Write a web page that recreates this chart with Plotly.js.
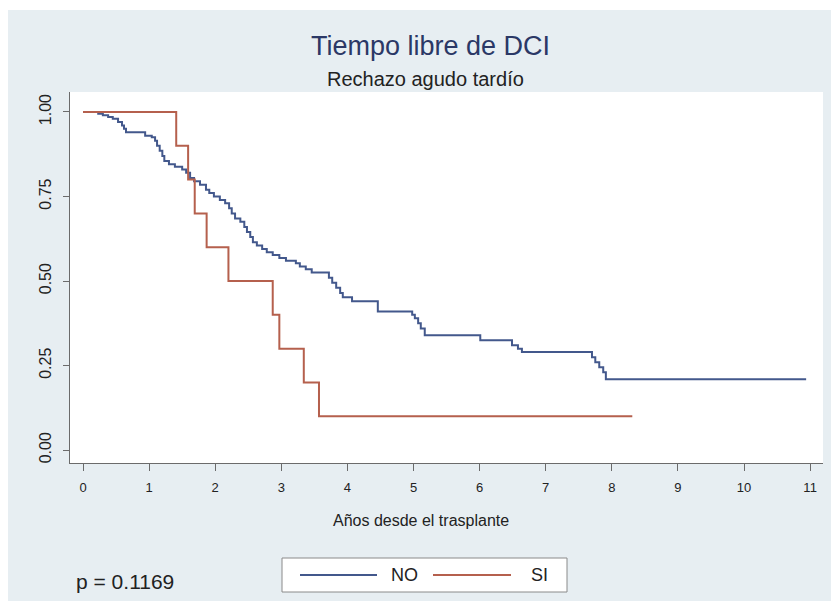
<!DOCTYPE html>
<html>
<head>
<meta charset="utf-8">
<script src="https://cdn.plot.ly/plotly-3.0.1.min.js"></script>
<style>
html,body{margin:0;padding:0;background:#ffffff;width:831px;height:607px;overflow:hidden;}
#chart{position:absolute;left:8px;top:10px;width:823px;height:591px;}
</style>
</head>
<body>
<div id="chart"></div>
<script>
// ---- data ----
const seriesNames = ["NO", "SI"];
const noTime = [0, 0.23, 0.30, 0.38, 0.45, 0.53, 0.59, 0.62, 0.65, 0.94, 1.04, 1.09, 1.12, 1.16, 1.20, 1.23, 1.30, 1.39, 1.50, 1.56, 1.62, 1.68, 1.77, 1.86, 1.91, 1.98, 2.07, 2.15, 2.21, 2.25, 2.30, 2.38, 2.44, 2.48, 2.53, 2.57, 2.63, 2.71, 2.78, 2.87, 2.97, 3.07, 3.22, 3.28, 3.37, 3.46, 3.72, 3.77, 3.83, 3.89, 3.93, 4.07, 4.46, 4.98, 5.02, 5.07, 5.11, 5.17, 6.01, 6.49, 6.58, 6.64, 7.70, 7.75, 7.81, 7.87, 7.91, 10.94];
const noSurv = [1.0, 0.995, 0.99, 0.985, 0.98, 0.97, 0.96, 0.95, 0.94, 0.93, 0.925, 0.915, 0.90, 0.885, 0.87, 0.855, 0.845, 0.838, 0.83, 0.82, 0.805, 0.795, 0.785, 0.77, 0.76, 0.75, 0.74, 0.73, 0.715, 0.70, 0.685, 0.675, 0.66, 0.645, 0.63, 0.615, 0.605, 0.595, 0.585, 0.577, 0.568, 0.56, 0.553, 0.543, 0.535, 0.525, 0.51, 0.495, 0.48, 0.465, 0.452, 0.44, 0.41, 0.40, 0.39, 0.375, 0.36, 0.34, 0.325, 0.31, 0.30, 0.29, 0.275, 0.26, 0.245, 0.23, 0.21, 0.21];
const siTime = [0, 1.41, 1.59, 1.69, 1.87, 2.20, 2.87, 2.97, 3.34, 3.57, 8.31];
const siSurv = [1.0, 0.9, 0.8, 0.7, 0.6, 0.5, 0.4, 0.3, 0.2, 0.1, 0.1];
const xTicks = [0,1,2,3,4,5,6,7,8,9,10,11];
const yTicks = [0, 0.25, 0.5, 0.75, 1];
const yTickText = ["0.00", "0.25", "0.50", "0.75", "1.00"];
const titleText = "Tiempo libre de DCI";
const subtitleText = "Rechazo agudo tardío";
const xTitleText = "Años desde el trasplante";
const pText = "p = 0.1169";

// ---- style ----
const blue = "#43588c";
const red = "#b5604d";
const font = "Liberation Sans, Arial, sans-serif";

const traces = [
  {x: noTime, y: noSurv, name: seriesNames[0], mode: "lines", line: {shape: "hv", color: blue, width: 2}, hoverinfo: "skip"},
  {x: siTime, y: siSurv, name: seriesNames[1], mode: "lines", line: {shape: "hv", color: red, width: 2}, hoverinfo: "skip"}
];

// pixel helpers relative to plot area (page px)
const L = 70, R = 823, T = 92, B = 463;
function px(x){ return (x - L) / (R - L); }
function py(y){ return (B - y) / (B - T); }

const legY = 575;
const shapes = [
  {type: "rect", xref: "paper", yref: "paper", x0: px(282), x1: px(567), y0: py(558), y1: py(592), fillcolor: "#ffffff", line: {color: "#8a8a8a", width: 1}},
  {type: "line", xref: "paper", yref: "paper", x0: px(300), x1: px(377), y0: py(legY), y1: py(legY), line: {color: blue, width: 2}},
  {type: "line", xref: "paper", yref: "paper", x0: px(433), x1: px(511), y0: py(legY), y1: py(legY), line: {color: red, width: 2}}
];

const annotations = [
  {text: titleText, xref: "paper", yref: "paper", x: px(430), y: py(46), showarrow: false, xanchor: "center", yanchor: "middle", font: {family: font, size: 27, color: "#2b3866"}},
  {text: subtitleText, xref: "paper", yref: "paper", x: px(425), y: py(79), showarrow: false, xanchor: "center", yanchor: "middle", font: {family: font, size: 20, color: "#222222"}},
  {text: xTitleText, xref: "paper", yref: "paper", x: px(421), y: py(520), showarrow: false, xanchor: "center", yanchor: "middle", font: {family: font, size: 16, color: "#222222"}},
  {text: pText, xref: "paper", yref: "paper", x: px(74), y: py(581), showarrow: false, xanchor: "left", yanchor: "middle", font: {family: font, size: 21, color: "#222222"}},
  {text: seriesNames[0], xref: "paper", yref: "paper", x: px(389), y: py(legY), showarrow: false, xanchor: "left", yanchor: "middle", font: {family: font, size: 18, color: "#222222"}},
  {text: seriesNames[1], xref: "paper", yref: "paper", x: px(529), y: py(legY), showarrow: false, xanchor: "left", yanchor: "middle", font: {family: font, size: 18, color: "#222222"}}
];

const layout = {
  width: 823, height: 591,
  margin: {l: L - 8, r: 831 - 8 - (R - 8), t: T - 10, b: 591 - (B - 10), pad: 0},
  paper_bgcolor: "#e7eef2",
  plot_bgcolor: "#ffffff",
  showlegend: false,
  font: {family: font, color: "#222222"},
  xaxis: {
    range: [-0.197, 11.195], tickvals: xTicks, ticktext: xTicks.map(String),
    showgrid: false, zeroline: false, showline: true, linecolor: "#6b6b6b", linewidth: 1,
    ticks: "outside", ticklen: 7, tickcolor: "#6b6b6b", tickfont: {size: 13, color: "#222222"},
    ticklabelstandoff: 5, fixedrange: true
  },
  yaxis: {
    range: [-0.038, 1.059], tickvals: yTicks, ticktext: yTickText, tickangle: -90,
    showgrid: false, zeroline: false, showline: true, linecolor: "#6b6b6b", linewidth: 1,
    ticks: "outside", ticklen: 6, tickcolor: "#6b6b6b", tickfont: {size: 16, color: "#222222"},
    ticklabelstandoff: 6, fixedrange: true
  },
  shapes: shapes,
  annotations: annotations
};

Plotly.newPlot("chart", traces, layout, {displayModeBar: false, staticPlot: true});
</script>
</body>
</html>
